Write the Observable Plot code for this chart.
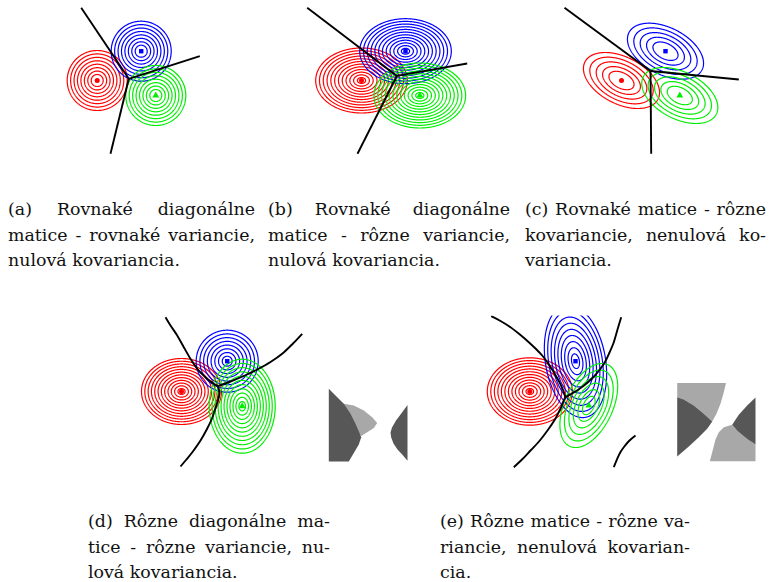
<!DOCTYPE html>
<html>
<head>
<meta charset="utf-8">
<script src="https://cdn.jsdelivr.net/npm/d3@7"></script>
<script src="https://cdn.jsdelivr.net/npm/@observablehq/plot@0.6"></script>
<style>
  html, body { margin: 0; padding: 0; background: #fff; }
  #fig { position: relative; width: 769px; height: 582px; overflow: hidden; background: #fff; }
  #fig svg { position: absolute; left: 0; top: 0; }
  .cap { position: absolute; font-family: "DejaVu Serif", serif; font-size: 17.4px; line-height: 25.5px; color: #111; }
  .cap div { text-align: justify; text-align-last: justify; white-space: nowrap; }
  .cap div.last { text-align-last: left; }
</style>
</head>
<body>
<div id="fig"></div>
<script>
const W = 769, H = 582;

const classColor = ["#ff0000", "#0000ff", "#00ee00"];
const classSymbol = ["circle", "square", "triangle"];
const panelIds = ["a", "b", "c", "d", "e"];

// plotting window of each panel, in reference units: [x1, x2, y1, y2]
const panelWindow = [
  [50, 210, 4, 156],
  [298, 482, 4, 156],
  [555, 762, 4, 156],
  [125, 312, 315.5, 468],
  [478, 645, 315.5, 468]
];

// class means: [panel, class, x, y]
const meanRows = [
  ["a", 0, 96.7, 80], ["a", 1, 140.7, 50.7], ["a", 2, 155.3, 95],
  ["b", 0, 361, 80], ["b", 1, 405, 50.7], ["b", 2, 419.3, 95],
  ["c", 0, 621, 80], ["c", 1, 665, 50.7], ["c", 2, 679.3, 95],
  ["d", 0, 181, 391], ["d", 1, 226.7, 360.7], ["d", 2, 241.7, 405.7],
  ["e", 0, 529.3, 391], ["e", 1, 575, 360.7], ["e", 2, 588.3, 405]
];

// contour rings: [panel, class, outer semi-axis a, outer semi-axis b, angle deg, ring count, innermost fraction]
const ringRows = [
  ["a", 0, 30, 30, 0, 8, 0.2], ["a", 1, 30, 30, 0, 8, 0.2], ["a", 2, 30, 30, 0, 8, 0.2],
  ["b", 0, 45.8, 32.5, 0, 12, 0.09], ["b", 1, 45.8, 32.5, 0, 12, 0.09], ["b", 2, 45.8, 32.5, 0, 12, 0.09],
  ["c", 0, 41, 23.5, 27, 5, 0.33], ["c", 1, 41, 23.5, 27, 5, 0.33], ["c", 2, 41, 23.5, 27, 5, 0.33],
  ["d", 0, 40, 33, 0, 12, 0.09], ["d", 1, 31, 31, 0, 8, 0.16], ["d", 2, 33, 47, 0, 11, 0.1],
  ["e", 0, 42.5, 33.7, 0, 12, 0.09], ["e", 1, 57, 30, 80, 9, 0.13], ["e", 2, 45, 24, 115, 6, 0.22]
];

// decision boundaries: [panel, segment, x, y]
const boundaryRows = [
  ["a", "a1", 80.7, 7.3], ["a", "a1", 128.3, 78.3],
  ["a", "a2", 128.3, 78.3], ["a", "a2", 199.3, 55.7],
  ["a", "a3", 128.3, 78.3], ["a", "a3", 110, 153.3],
  ["b", "b1", 306.7, 7.3], ["b", "b1", 396.4, 75.4],
  ["b", "b2", 396.4, 75.4], ["b", "b2", 466.7, 63],
  ["b", "b3", 396.4, 75.4], ["b", "b3", 357, 153.3],
  ["c", "c1", 564, 7.3], ["c", "c1", 650, 70.5],
  ["c", "c2", 650, 70.5], ["c", "c2", 738.3, 79],
  ["c", "c3", 650, 70.5], ["c", "c3", 650.7, 153.3],
  ["d", "d1", 165, 316.7], ["d", "d1", 170, 325], ["d", "d1", 176.7, 335], ["d", "d1", 183.3, 346.7],
  ["d", "d1", 190, 358.3], ["d", "d1", 196.7, 368.3], ["d", "d1", 205, 376.7], ["d", "d1", 213.3, 383.3], ["d", "d1", 217.3, 385.7],
  ["d", "d2", 217.3, 385.7], ["d", "d2", 230, 381], ["d", "d2", 243.3, 375.5], ["d", "d2", 256.7, 369],
  ["d", "d2", 270, 361.5], ["d", "d2", 282, 353], ["d", "d2", 292.5, 343], ["d", "d2", 301.7, 333.3],
  ["d", "d3", 217.3, 385.7], ["d", "d3", 219, 392], ["d", "d3", 217.7, 399], ["d", "d3", 215, 407.5],
  ["d", "d3", 211.5, 418], ["d", "d3", 206.5, 428.5], ["d", "d3", 200, 440], ["d", "d3", 192, 451.5],
  ["d", "d3", 185.5, 459.5], ["d", "d3", 180, 466],
  ["e", "e1", 490.7, 315.7], ["e", "e1", 500, 320.5], ["e", "e1", 510, 326.7], ["e", "e1", 520, 334.5],
  ["e", "e1", 528.3, 341.7], ["e", "e1", 536, 349], ["e", "e1", 541.7, 355], ["e", "e1", 548, 363.5],
  ["e", "e1", 553.3, 371.7], ["e", "e1", 558, 380], ["e", "e1", 562, 388], ["e", "e1", 565, 397],
  ["e", "e2", 620.7, 316.7], ["e", "e2", 617, 329], ["e", "e2", 613.3, 341.7], ["e", "e2", 609, 352],
  ["e", "e2", 604.5, 361.5], ["e", "e2", 599, 369.5], ["e", "e2", 593, 376.5], ["e", "e2", 586, 383],
  ["e", "e2", 578, 389], ["e", "e2", 570.5, 393.5], ["e", "e2", 565, 397], ["e", "e2", 560.5, 407],
  ["e", "e2", 555, 418], ["e", "e2", 547, 430], ["e", "e2", 538.5, 441], ["e", "e2", 530, 450],
  ["e", "e2", 521.5, 459], ["e", "e2", 513.3, 466.7],
  ["e", "e3", 613.3, 466.7], ["e", "e3", 616.7, 458.3], ["e", "e3", 620, 451.5], ["e", "e3", 623.5, 446.5],
  ["e", "e3", 628.5, 440.5], ["e", "e3", 635, 435]
];

// zoomed-out decision regions (small grey panels): [panel, region, shade, x, y]
const regionRows = [
  ["d", "dL", "light", 343.3, 403.3], ["d", "dL", "light", 353.3, 405], ["d", "dL", "light", 363.3, 410],
  ["d", "dL", "light", 371.7, 416.7], ["d", "dL", "light", 376.7, 422.5], ["d", "dL", "light", 373.3, 427.5],
  ["d", "dL", "light", 366.7, 431.7], ["d", "dL", "light", 360.7, 435.5], ["d", "dL", "light", 345, 425],
  ["d", "dD1", "dark", 328.3, 388.3], ["d", "dD1", "dark", 335, 395], ["d", "dD1", "dark", 343.3, 403.3],
  ["d", "dD1", "dark", 350, 413.3], ["d", "dD1", "dark", 355, 423.3], ["d", "dD1", "dark", 359.3, 433.3],
  ["d", "dD1", "dark", 360.7, 436.7], ["d", "dD1", "dark", 358.3, 444], ["d", "dD1", "dark", 353.3, 452.5],
  ["d", "dD1", "dark", 348.3, 461], ["d", "dD1", "dark", 328.3, 461],
  ["d", "dD2", "dark", 407, 404.5], ["d", "dD2", "dark", 401.7, 411.7], ["d", "dD2", "dark", 395.5, 420],
  ["d", "dD2", "dark", 391.5, 427], ["d", "dD2", "dark", 390, 432], ["d", "dD2", "dark", 390.7, 437],
  ["d", "dD2", "dark", 393, 443], ["d", "dD2", "dark", 397, 449], ["d", "dD2", "dark", 401.7, 454],
  ["d", "dD2", "dark", 407, 460.3],
  ["e", "eL1", "light", 676.7, 382.5], ["e", "eL1", "light", 725.5, 382.5], ["e", "eL1", "light", 723.3, 391.7],
  ["e", "eL1", "light", 720, 403.3], ["e", "eL1", "light", 716, 413.3], ["e", "eL1", "light", 711.7, 421],
  ["e", "eL1", "light", 703.3, 413.3], ["e", "eL1", "light", 693.3, 405], ["e", "eL1", "light", 683.3, 399],
  ["e", "eL1", "light", 676.7, 396.7],
  ["e", "eD1", "dark", 676.7, 396.7], ["e", "eD1", "dark", 683.3, 399], ["e", "eD1", "dark", 693.3, 405],
  ["e", "eD1", "dark", 703.3, 413.3], ["e", "eD1", "dark", 711.7, 421], ["e", "eD1", "dark", 706.7, 428.3],
  ["e", "eD1", "dark", 698.3, 436.7], ["e", "eD1", "dark", 688.3, 446], ["e", "eD1", "dark", 676.7, 456],
  ["e", "eD2", "dark", 755, 397], ["e", "eD2", "dark", 746.7, 405], ["e", "eD2", "dark", 738.3, 414.3],
  ["e", "eD2", "dark", 731.7, 424.3], ["e", "eD2", "dark", 737, 430.5], ["e", "eD2", "dark", 746.7, 438.5],
  ["e", "eD2", "dark", 755, 444],
  ["e", "eL2", "light", 731.7, 424.3], ["e", "eL2", "light", 723.3, 426.7], ["e", "eL2", "light", 718.3, 431.7],
  ["e", "eL2", "light", 715, 439], ["e", "eL2", "light", 711.7, 451.7], ["e", "eL2", "light", 709.3, 460.7],
  ["e", "eL2", "light", 755, 460.7], ["e", "eL2", "light", 755, 444], ["e", "eL2", "light", 746.7, 438.5],
  ["e", "eL2", "light", 737, 430.5]
];
const shadeColor = { dark: "#575757", light: "#a8a8a8" };

// captions
const captionLines = [
  ["(a) Rovnaké diagonálne", "matice - rovnaké variancie,", "nulová kovariancia."],
  ["(b) Rovnaké diagonálne", "matice - rôzne variancie,", "nulová kovariancia."],
  ["(c) Rovnaké matice - rôzne", "kovariancie, nenulová ko-", "variancia."],
  ["(d) Rôzne diagonálne ma-", "tice - rôzne variancie, nu-", "lová kovariancia."],
  ["(e) Rôzne matice - rôzne va-", "riancie, nenulová kovarian-", "cia."]
];
// caption column: [left, width, top]
const captionBox = [[8, 247, 197], [268, 242, 197], [525, 241, 197], [88, 242, 509], [440, 250, 509]];

const fig = document.getElementById("fig");

function ringMark(r, win) {
  const [p, k, a, b, ang, n, f0] = r;
  const m = meanRows.find(d => d[0] === p && d[1] === k);
  const cx = m[2], cy = m[3];
  const t = ang * Math.PI / 180, c = Math.cos(t), s = Math.sin(t);
  const levels = d3.range(n).map(i => f0 + (1 - f0) * i / (n - 1));
  return Plot.contour({
    value: (x, y) => {
      const dx = x - cx, dy = y - cy;
      const u = dx * c + dy * s, v = -dx * s + dy * c;
      return -Math.hypot(u / a, v / b);
    },
    x1: win[0] - 3, x2: win[1] + 3, y1: win[2] - 3, y2: win[3] + 3,
    thresholds: levels.map(l => -l),
    fill: "none",
    stroke: classColor[k],
    strokeWidth: 1.2,
    pixelSize: 0.5,
    clip: true
  });
}

panelIds.forEach((p, i) => {
  const win = panelWindow[i];
  const marks = [];
  const regs = regionRows.filter(d => d[0] === p);
  const regIds = Array.from(new Set(regs.map(d => d[1])));
  const shadeOf = id => regs.find(d => d[1] === id)[2];
  regIds.sort((u, v) => (shadeOf(u) === "light" ? 0 : 1) - (shadeOf(v) === "light" ? 0 : 1));
  regIds.forEach(id => {
    const pts = regs.filter(d => d[1] === id);
    marks.push(Plot.line(pts, {x: d => d[3], y: d => d[4], fill: shadeColor[pts[0][2]], stroke: "none", curve: "linear-closed"}));
  });
  ringRows.filter(r => r[0] === p).forEach(r => marks.push(ringMark(r, win)));
  marks.push(Plot.line(boundaryRows.filter(d => d[0] === p), {
    x: d => d[2], y: d => d[3], z: d => d[1],
    stroke: "#000", strokeWidth: 1.9, strokeLinejoin: "round", strokeLinecap: "butt",
    curve: "catmull-rom", clip: true
  }));
  const ms = meanRows.filter(d => d[0] === p);
  marks.push(Plot.dot(ms, {
    x: d => d[2], y: d => d[3],
    symbol: d => classSymbol[d[1]],
    fill: d => classColor[d[1]],
    stroke: "none",
    r: 2.5
  }));
  const svg = Plot.plot({
    width: W, height: H,
    marginLeft: win[0], marginRight: W - win[1], marginTop: win[2], marginBottom: H - win[3],
    x: {type: "linear", domain: [win[0], win[1]], axis: null},
    y: {type: "linear", domain: [win[2], win[3]], reverse: true, axis: null},
    symbol: {type: "identity"},
    color: {type: "identity"},
    style: {background: "transparent", overflow: "visible"},
    marks
  });
  svg.style.position = "absolute";
  svg.style.left = "0px";
  svg.style.top = "0px";
  svg.style.background = "transparent";
  svg.style.maxWidth = "none";
  fig.appendChild(svg);
});

captionLines.forEach((lines, i) => {
  const [left, width, top] = captionBox[i];
  const box = document.createElement("div");
  box.className = "cap";
  box.style.left = left + "px";
  box.style.top = top + "px";
  box.style.width = width + "px";
  lines.forEach((txt, j) => {
    const ln = document.createElement("div");
    ln.textContent = txt;
    if (j === lines.length - 1) ln.className = "last";
    box.appendChild(ln);
  });
  fig.appendChild(box);
});
</script>
</body>
</html>
